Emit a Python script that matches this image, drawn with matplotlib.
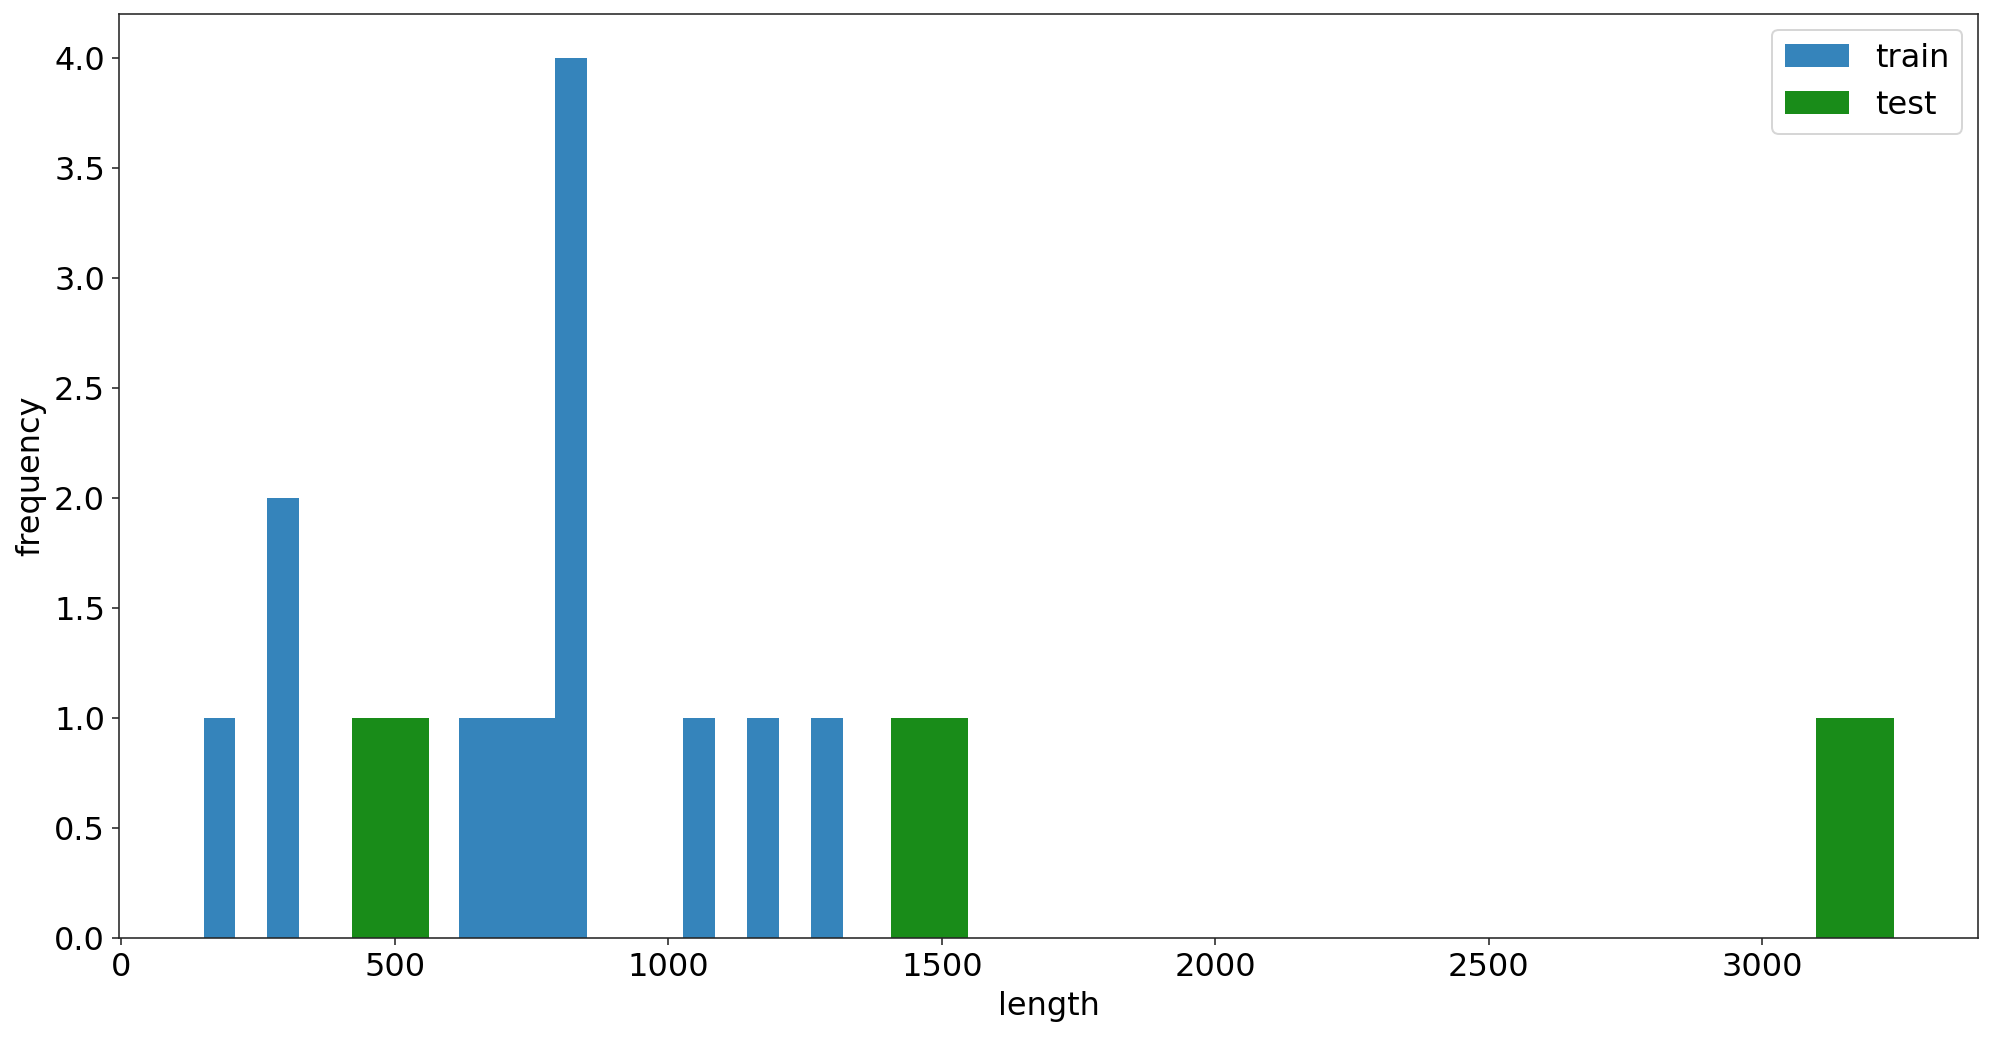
import matplotlib
matplotlib.use("Agg")
import matplotlib.pyplot as plt

# longitudes
train_lengths = [150, 290, 300, 650, 720, 760, 800, 815, 830, 845, 1050, 1170, 1320]
test_lengths = [421, 1480, 3240]
n_bins = 20

plt.rcParams["font.size"] = 16
plt.rcParams["axes.edgecolor"] = "#262626"
plt.rcParams["xtick.color"] = "#262626"
plt.rcParams["ytick.color"] = "#262626"
plt.rcParams["xtick.labelcolor"] = "black"
plt.rcParams["ytick.labelcolor"] = "black"

dpi = 144
fig = plt.figure(figsize=(1993 / dpi, 1038 / dpi), dpi=dpi)
ax = fig.add_axes([119 / 1993, 100.3 / 1038, (1978 - 119) / 1993, (937.7 - 14) / 1038])

ax.hist(train_lengths, bins=n_bins, color="#1f77b4", alpha=0.9, label="train")
ax.hist(test_lengths, bins=n_bins, color="green", alpha=0.9, label="test")

ax.set_xlabel("length")
ax.set_ylabel("frequency")
ax.legend(loc="upper right")

fig.savefig("out.png", dpi=dpi)
